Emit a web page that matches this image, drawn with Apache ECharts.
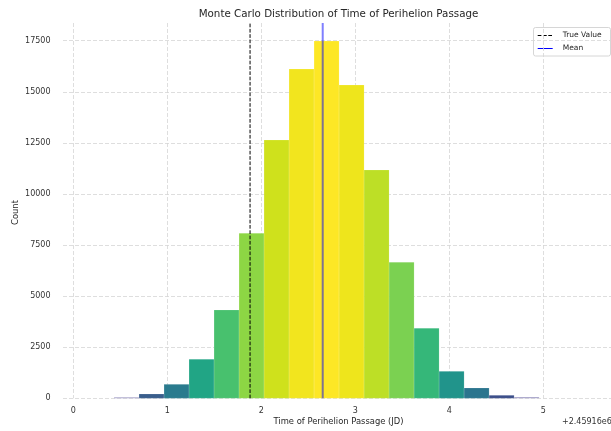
<!DOCTYPE html>
<html>
<head>
<meta charset="utf-8">
<script src="https://cdn.jsdelivr.net/npm/echarts@6/dist/echarts.min.js"></script>
<style>
  html, body { margin: 0; padding: 0; background: #ffffff; }
  #chart { width: 611px; height: 431px; }
</style>
</head>
<body>
<div id="chart"></div>
<script>
// Histogram bin edges (days, relative to the 2.45916e6 JD offset)
const binEdges = [0.433, 0.699, 0.965, 1.231, 1.497, 1.763, 2.029, 2.295, 2.561,
                  2.827, 3.093, 3.359, 3.625, 3.891, 4.157, 4.423, 4.689, 4.955];
// Number of Monte Carlo samples in each bin
const counts = [50, 210, 685, 1908, 4320, 8072, 12637, 16110, 17480,
                15328, 11170, 6654, 3425, 1321, 504, 147, 64];
// Reference lines
const trueValue = 1.88;
const meanValue = 2.653;
// Axis ranges and tick step
const xRange = [-0.11, 5.72];
const yRange = [0, 18366];
const yTickStep = 2500;
const offsetLabel = '+2.45916e6';
const legendNames = ['True Value', 'Mean'];

// Fill colours per bar (viridis shades)
const barColors = ['#a29ec8', '#3a5e8c', '#2a7b8e', '#21a585', '#48c16e', '#8dd644',
                   '#cfe11c', '#f2e51e', '#fde725', '#eee51c', '#bddf26', '#7bd151',
                   '#35b779', '#21948b', '#2b758e', '#3d4f8a', '#a8a4ca'];

const FONT = 'DejaVu Sans';
const histData = counts.map((c, i) => [binEdges[i], binEdges[i + 1], c]);

const chart = echarts.init(document.getElementById('chart'), null, { renderer: 'canvas' });

const gridLine = { show: true, lineStyle: { color: '#d6d6d6', width: 0.8, type: [4, 2] } };

// Legend box drawn as a small group: frame, line samples and labels
const legendGroup = {
  type: 'group',
  x: 533.5,
  y: 27.5,
  z: 20,
  children: [
    { type: 'rect', shape: { x: 0, y: 0, width: 77, height: 28.5, r: 2 },
      style: { fill: '#ffffff', stroke: '#cccccc', lineWidth: 0.8 } },
    { type: 'line', shape: { x1: 4.2, y1: 8, x2: 19.2, y2: 8 },
      style: { stroke: '#000000', lineWidth: 1, lineDash: [3.7, 1.6] } },
    { type: 'line', shape: { x1: 4.2, y1: 21, x2: 19.2, y2: 21 },
      style: { stroke: '#0000ff', lineWidth: 1 } },
    { type: 'text', x: 29.2, y: 7.8, style: { text: legendNames[0],
      font: '7.5px "' + FONT + '"', fill: '#262626', align: 'left', verticalAlign: 'middle' } },
    { type: 'text', x: 29.2, y: 20.8, style: { text: legendNames[1],
      font: '7.5px "' + FONT + '"', fill: '#262626', align: 'left', verticalAlign: 'middle' } }
  ]
};

chart.setOption({
  animation: false,
  backgroundColor: '#ffffff',
  grid: { left: 63, right: 0, top: 23, bottom: 32.7, containLabel: false },
  xAxis: {
    type: 'value',
    min: xRange[0],
    max: xRange[1],
    splitNumber: 6,
    axisLine: { show: false },
    axisTick: { show: false },
    axisLabel: {
      showMinLabel: false, showMaxLabel: false,
      margin: 9, fontFamily: FONT, fontSize: 8, color: '#333333'
    },
    splitLine: Object.assign({ showMinLine: false, showMaxLine: false }, gridLine)
  },
  yAxis: {
    type: 'value',
    min: yRange[0],
    max: yRange[1],
    interval: yTickStep,
    axisLine: { show: false },
    axisTick: { show: false },
    axisLabel: {
      showMaxLabel: false,
      formatter: function (v) { return String(v); },
      margin: 12.5, fontFamily: FONT, fontSize: 8, color: '#333333'
    },
    splitLine: Object.assign({ showMaxLine: false }, gridLine)
  },
  graphic: [
    { type: 'text', x: 338.5, y: 14.5, style: { text: 'Monte Carlo Distribution of Time of Perihelion Passage',
      font: '10.3px "' + FONT + '"', fill: '#262626', align: 'center', verticalAlign: 'middle' } },
    { type: 'text', x: 338.5, y: 422.3, style: { text: 'Time of Perihelion Passage (JD)',
      font: '8.4px "' + FONT + '"', fill: '#262626', align: 'center', verticalAlign: 'middle' } },
    { type: 'text', x: 15.5, y: 212.5, rotation: Math.PI / 2, style: { text: 'Count',
      font: '8.4px "' + FONT + '"', fill: '#262626', align: 'center', verticalAlign: 'middle' } },
    { type: 'text', x: 562, y: 422, style: { text: offsetLabel,
      font: '8px "' + FONT + '"', fill: '#333333', align: 'left', verticalAlign: 'middle' } },
    legendGroup
  ],
  series: [
    {
      name: 'Histogram',
      type: 'custom',
      data: histData,
      encode: { x: [0, 1], y: 2 },
      z: 2,
      renderItem: function (params, api) {
        const top = api.coord([api.value(0), api.value(2)]);
        const base = api.coord([api.value(1), 0]);
        return {
          type: 'rect',
          shape: { x: top[0], y: top[1], width: base[0] - top[0], height: base[1] - top[1] },
          style: { fill: barColors[params.dataIndex], stroke: 'rgba(255,255,255,0.25)', lineWidth: 0.5 }
        };
      }
    },
    {
      name: legendNames[0],
      type: 'line',
      data: [[trueValue, yRange[0]], [trueValue, yRange[1]]],
      symbol: 'none',
      z: 5,
      lineStyle: { color: '#000000', width: 1, type: [3.7, 1.6] }
    },
    {
      name: legendNames[1],
      type: 'line',
      data: [[meanValue, yRange[0]], [meanValue, yRange[1]]],
      symbol: 'none',
      z: 5,
      lineStyle: { color: '#0000ff', opacity: 0.5, width: 2 }
    }
  ]
});
</script>
</body>
</html>
